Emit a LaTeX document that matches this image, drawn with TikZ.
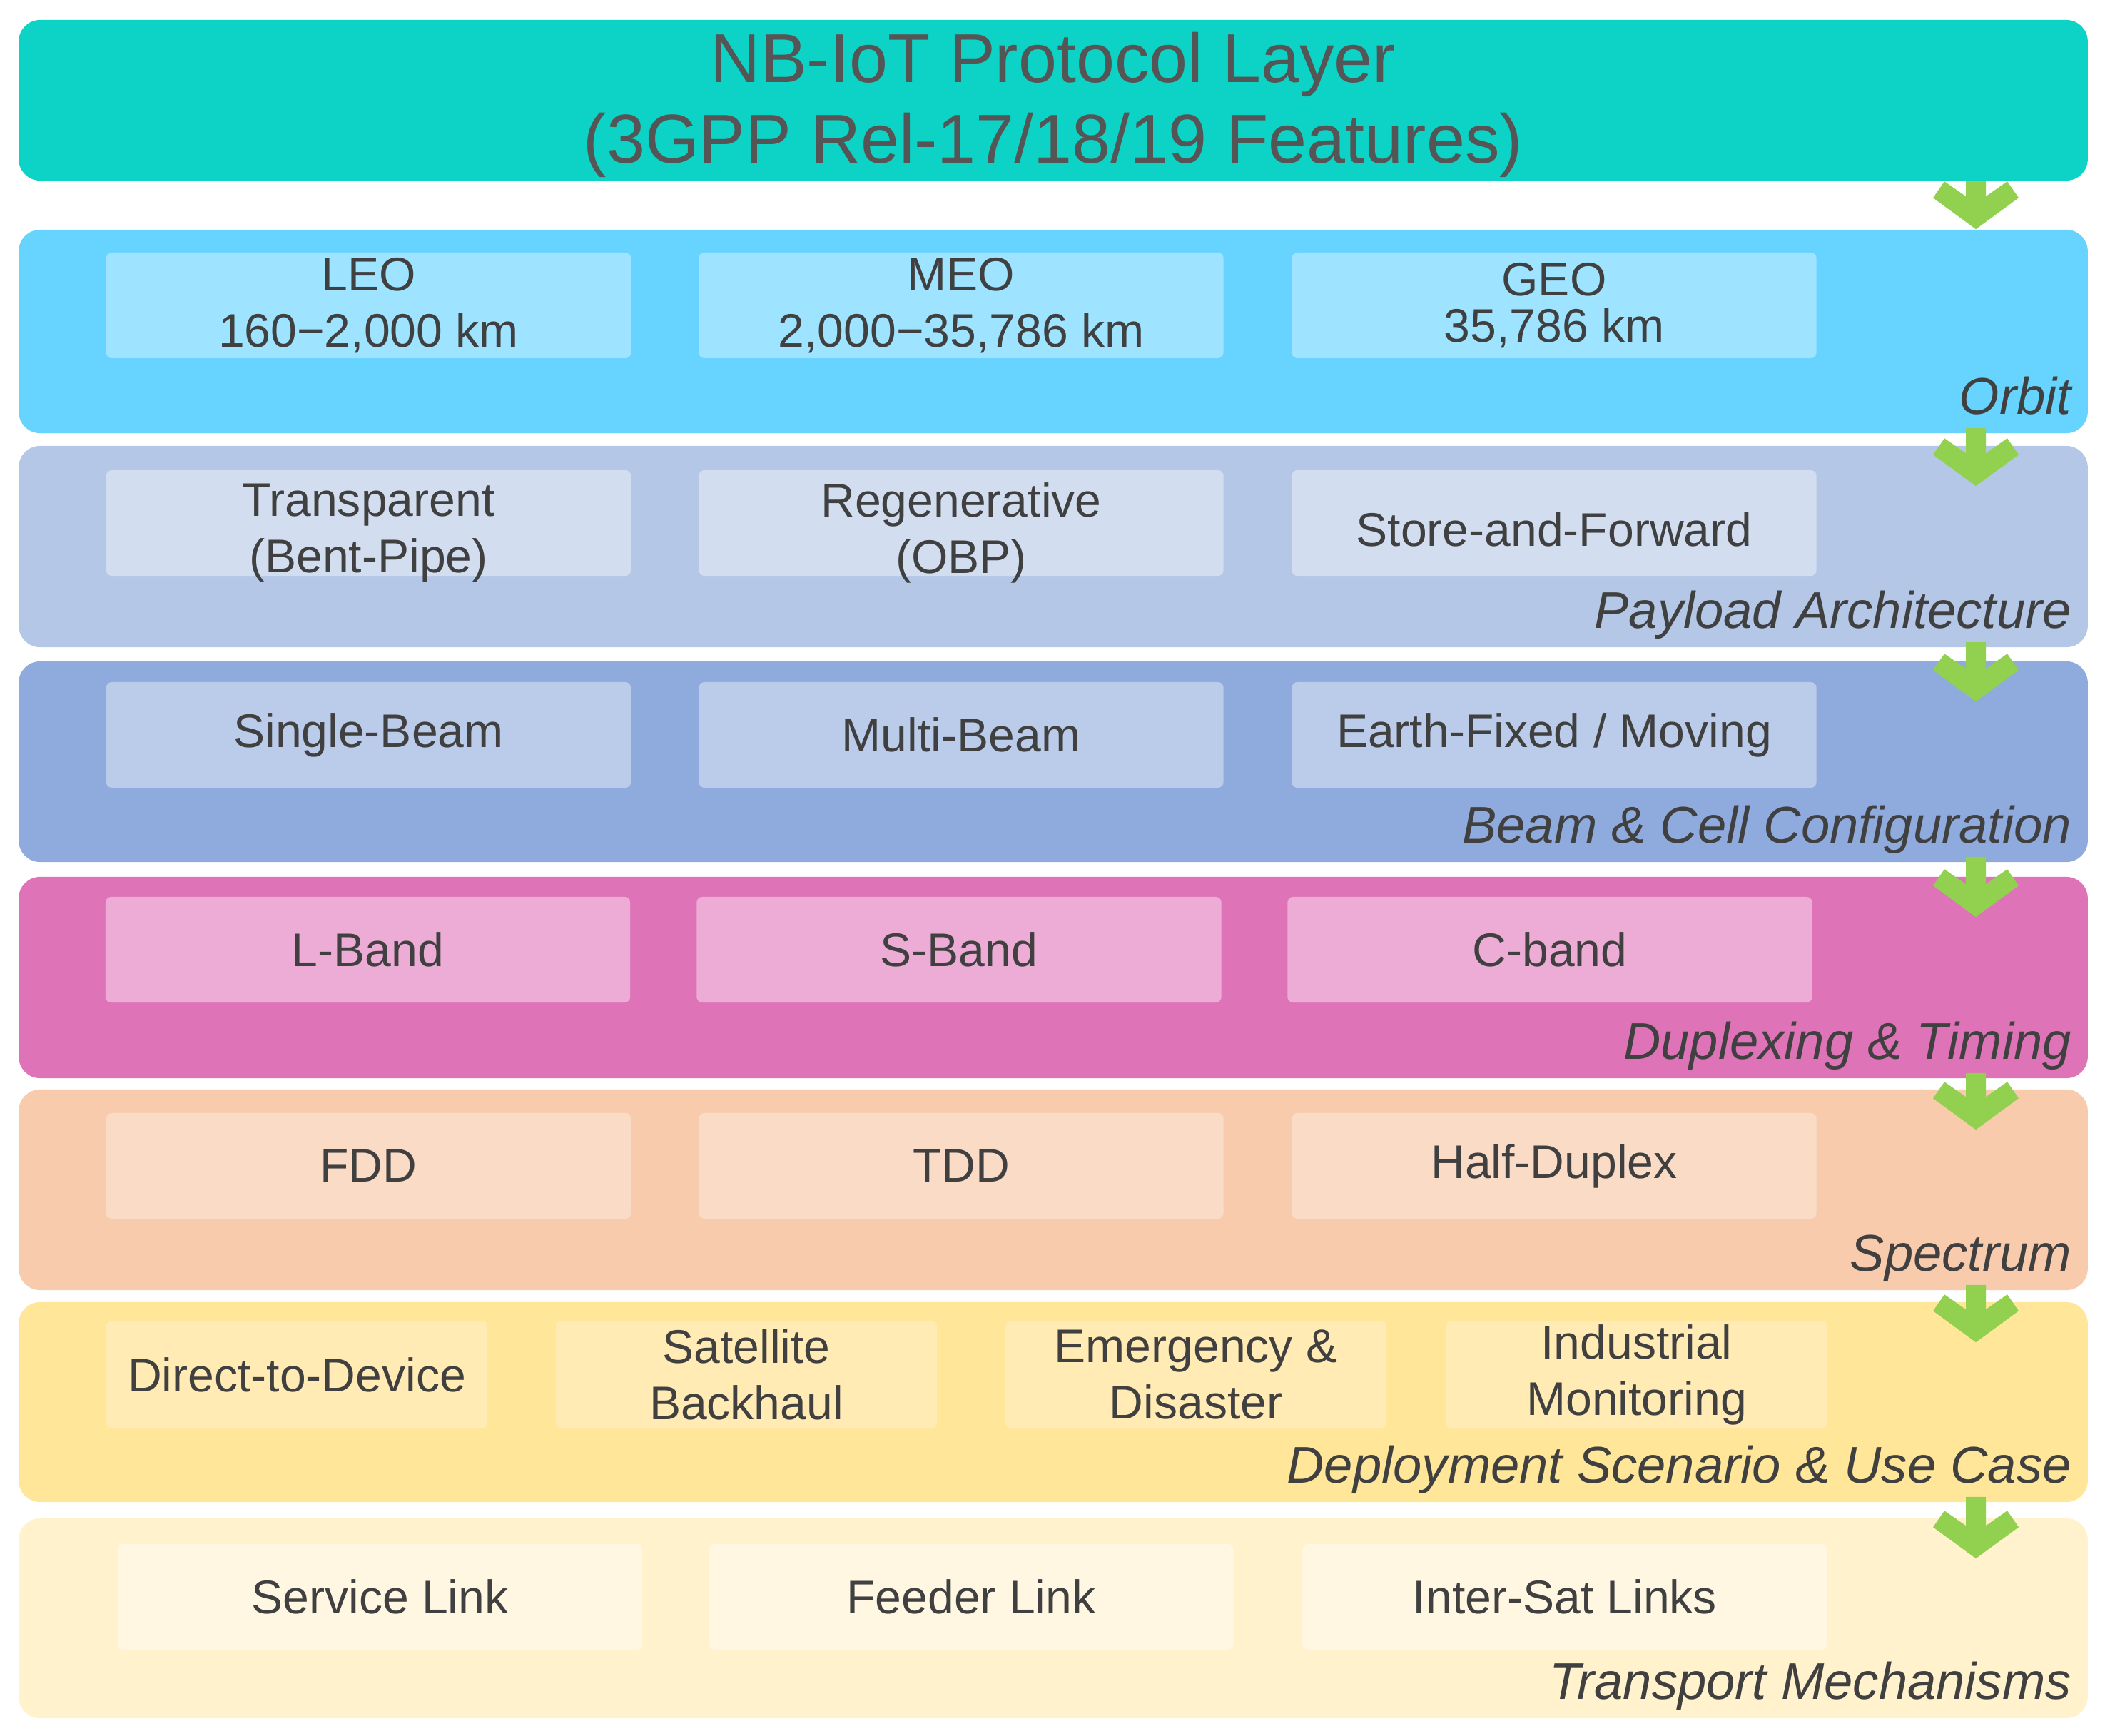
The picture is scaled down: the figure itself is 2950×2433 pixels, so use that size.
\documentclass[tikz,border=0pt]{standalone}
\usepackage{fontspec}
\setmainfont{Liberation Sans}
\usetikzlibrary{calc}
\definecolor{txt}{HTML}{404040}
\definecolor{ttxt}{HTML}{555555}
\definecolor{arrowgreen}{HTML}{92D050}
\definecolor{cTitle}{HTML}{0CD3C6}
\definecolor{cOrbit}{HTML}{66D4FF}\definecolor{sOrbit}{HTML}{9EE3FF}
\definecolor{cPay}{HTML}{B4C7E7}\definecolor{sPay}{HTML}{D2DEF0}
\definecolor{cBeam}{HTML}{8FAADC}\definecolor{sBeam}{HTML}{BBCBEA}
\definecolor{cDup}{HTML}{DF73B8}\definecolor{sDup}{HTML}{ECACD6}
\definecolor{cSpec}{HTML}{F8CBAD}\definecolor{sSpec}{HTML}{FADBC6}
\definecolor{cDep}{HTML}{FFE699}\definecolor{sDep}{HTML}{FFEBB3}
\definecolor{cTra}{HTML}{FFF2CC}\definecolor{sTra}{HTML}{FFF7E1}
\newcommand{\mysubfont}{\fontsize{18.8pt}{22.5pt}\selectfont}
\newcommand{\mytitlefont}{\fontsize{27.6pt}{32.1pt}\selectfont}
\newcommand{\mylblfont}{\fontsize{20.6pt}{24pt}\selectfont\itshape}
\newcommand{\greenarrow}[2]{\fill[arrowgreen] ($(#1)+(-14,0)$) -- ($(#2)+(-14,-46)$) -- ($(#2)+(-44,-67)$) -- ($(#2)+(-60,-44)$) -- (#2) -- ($(#2)+(60,-44)$) -- ($(#2)+(44,-67)$) -- ($(#2)+(14,-46)$) -- ($(#1)+(14,0)$) -- cycle;}
\tikzset{
  band/.style={fill=#1, draw=none, rounded corners=0.3cm, inner sep=0pt, minimum width=28.98cm},
  sub/.style={fill=#1, draw=none, rounded corners=0.08cm, inner sep=0pt, text=txt, font=\mysubfont, align=center, minimum width=7.35cm, minimum height=1.48cm},
  subw/.style={sub=#1, minimum width=5.34cm, minimum height=1.51cm},
  subtext/.style={text=txt, font=\mysubfont, align=center, inner sep=0pt},
  bandlabel/.style={font=\mylblfont, text=txt, anchor=base east, inner sep=0pt},
}
\begin{document}
\begin{tikzpicture}[x=0.01cm, y=-0.01cm]
\useasboundingbox (0,0) rectangle (2950,2433);
% title
\node[band=cTitle, minimum height=2.25cm] (title) at (1476,140.5) {};
\node[font=\mytitlefont, text=ttxt, align=center, inner sep=0pt] (titletext) at ($(title.center)+(0,6)$) {NB-IoT Protocol Layer\\(3GPP Rel-17/18/19 Features)};
% bands
\node[band=cOrbit, minimum height=2.85cm] (orbit) at (1476,464.5) {};
\node[band=cPay, minimum height=2.82cm] (pay) at (1476,766) {};
\node[band=cBeam, minimum height=2.81cm] (beam) at (1476,1067.5) {};
\node[band=cDup, minimum height=2.82cm] (dup) at (1476,1370) {};
\node[band=cSpec, minimum height=2.81cm] (spec) at (1476,1667.5) {};
\node[band=cDep, minimum height=2.80cm] (dep) at (1476,1965) {};
\node[band=cTra, minimum height=2.80cm] (tra) at (1476,2268) {};
% band labels
\node[bandlabel] (lOrbit) at ($(orbit.south east)+(-23,-27)$) {Orbit};
\node[bandlabel] (lPay) at ($(pay.south east)+(-23,-27)$) {Payload Architecture};
\node[bandlabel] (lBeam) at ($(beam.south east)+(-23,-27)$) {Beam \& Cell Configuration};
\node[bandlabel] (lDup) at ($(dup.south east)+(-23,-27)$) {Duplexing \& Timing};
\node[bandlabel] (lSpec) at ($(spec.south east)+(-23,-27)$) {Spectrum};
\node[bandlabel] (lDep) at ($(dep.south east)+(-23,-27)$) {Deployment Scenario \& Use Case};
\node[bandlabel] (lTra) at ($(tra.south east)+(-23,-27)$) {Transport Mechanisms};
% orbit row
\node[sub=sOrbit] (o1) at (516.5,428) {LEO\\160−2,000 km};
\node[sub=sOrbit] (o2) at (1347,428) {MEO\\2,000−35,786 km};
\node[sub=sOrbit] (o3) at (2178,428) {GEO\\[-4pt]35,786 km};
% payload row
\node[sub=sPay] (p1) at (516.5,733) {};
\node[sub=sPay] (p2) at (1347,733) {};
\node[sub=sPay] (p3) at (2178,733) {};
\node[subtext] (p1t) at ($(p1.center)+(0,14)$) {Transparent\\(Bent-Pipe)};
\node[subtext] (p2t) at ($(p2.center)+(0,14)$) {Regenerative\\(OBP)};
\node[subtext] (p3t) at ($(p3.center)+(0,9)$) {Store-and-Forward};
% beam row
\node[sub=sBeam] (b1) at (516.5,1030) {Single-Beam};
\node[sub=sBeam] (b2) at (1347,1030) {Multi-Beam};
\node[sub=sBeam] (b3) at (2178,1030) {Earth-Fixed / Moving};
% duplex row
\node[sub=sDup] (d1) at (515.5,1331) {L-Band};
\node[sub=sDup] (d2) at (1344,1331) {S-Band};
\node[sub=sDup] (d3) at (2172,1331) {C-band};
% spectrum row
\node[sub=sSpec] (s1) at (516.5,1634) {FDD};
\node[sub=sSpec] (s2) at (1347,1634) {TDD};
\node[sub=sSpec] (s3) at (2178,1634) {Half-Duplex};
% deployment row
\node[subw=sDep] (e1) at (416,1926.5) {Direct-to-Device};
\node[subw=sDep] (e2) at (1046,1926.5) {Satellite\\Backhaul};
\node[subw=sDep] (e3) at (1676,1926.5) {Emergency \&\\Disaster};
\node[subw=sDep] (e4) at (2293.5,1926.5) {Industrial\\Monitoring};
% transport row
\node[sub=sTra] (t1) at (532.5,2238) {Service Link};
\node[sub=sTra] (t2) at (1361,2238) {Feeder Link};
\node[sub=sTra] (t3) at (2193,2238) {Inter-Sat Links};
% arrows
\coordinate (ax) at (2769,0);
\coordinate (a1s) at (title.south -| ax);
\coordinate (a1t) at (orbit.north -| ax);
\coordinate (a2s) at ($(orbit.south -| ax)+(0,-8)$);
\coordinate (a2t) at ($(pay.north -| ax)+(0,57)$);
\coordinate (a3s) at ($(pay.south -| ax)+(0,-8)$);
\coordinate (a3t) at ($(beam.north -| ax)+(0,57)$);
\coordinate (a4s) at ($(beam.south -| ax)+(0,-8)$);
\coordinate (a4t) at ($(dup.north -| ax)+(0,57)$);
\coordinate (a5s) at ($(dup.south -| ax)+(0,-8)$);
\coordinate (a5t) at ($(spec.north -| ax)+(0,57)$);
\coordinate (a6s) at ($(spec.south -| ax)+(0,-8)$);
\coordinate (a6t) at ($(dep.north -| ax)+(0,57)$);
\coordinate (a7s) at ($(dep.south -| ax)+(0,-8)$);
\coordinate (a7t) at ($(tra.north -| ax)+(0,57)$);
\greenarrow{a1s}{a1t}
\greenarrow{a2s}{a2t}
\greenarrow{a3s}{a3t}
\greenarrow{a4s}{a4t}
\greenarrow{a5s}{a5t}
\greenarrow{a6s}{a6t}
\greenarrow{a7s}{a7t}
\end{tikzpicture}
\end{document}
